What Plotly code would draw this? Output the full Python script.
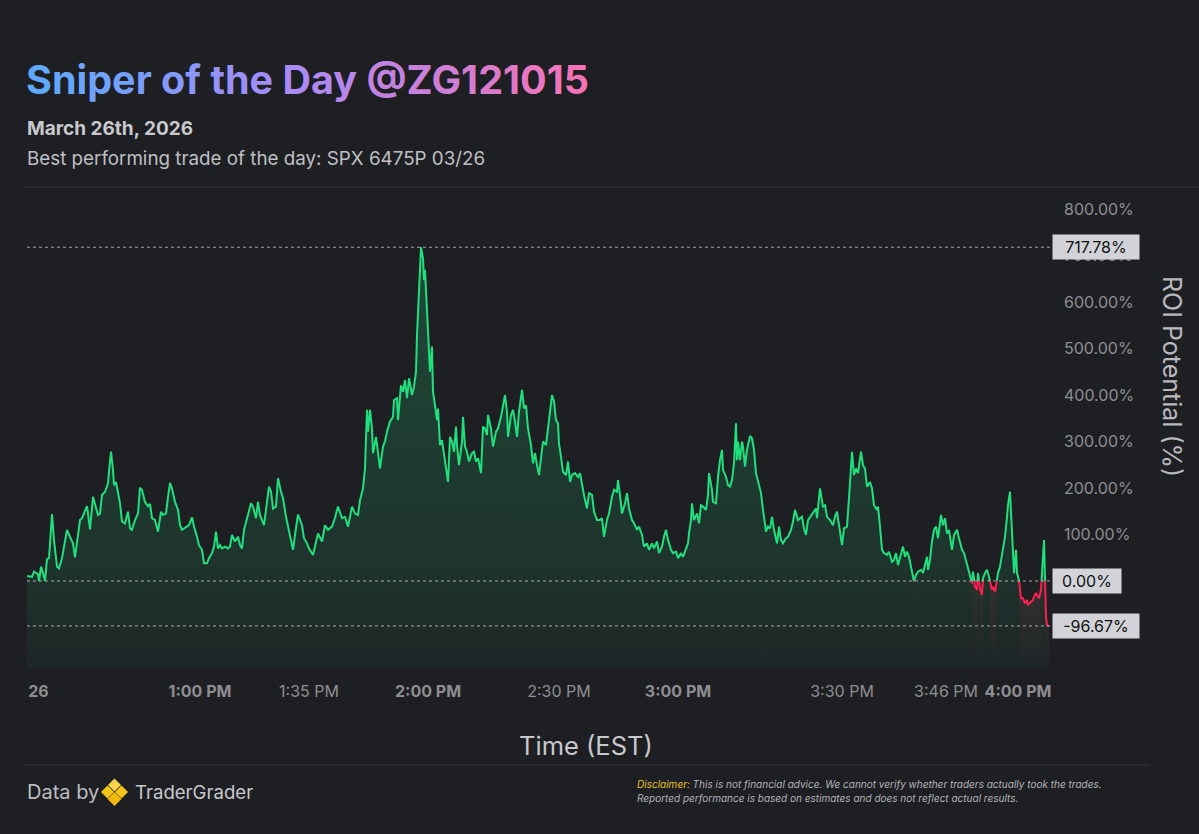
import plotly.graph_objects as go

# ---------------- data ----------------
# x = bar number along the session, y = ROI potential in %
SEG1_BAR = [0, 5, 7, 11, 12, 14, 16, 18, 20, 22, 25, 27, 30, 32, 35, 37, 40, 43, 46, 48,
            51, 53, 55, 57, 60, 61, 63, 66, 69, 71, 73, 75, 78, 81, 82, 84, 86, 87, 89, 91,
            93, 95, 98, 101, 103, 105, 108, 111, 113, 115, 118, 121, 123, 125, 128, 131, 134, 136, 139, 141,
            143, 145, 148, 151, 153, 155, 157, 160, 162, 165, 167, 170, 172, 175, 177, 180, 182, 185, 187, 189,
            191, 193, 195, 198, 201, 203, 205, 208, 211, 213, 215, 217, 220, 222, 224, 226, 229, 231, 233, 235,
            237, 240, 242, 244, 246, 249, 251, 254, 256, 259, 261, 264, 266]
SEG1_ROI = [11, 9, 20, 15, 0, 31, 17, 0, 47, 49, 144, 88, 31, 27, 49, 74, 110, 95, 81, 51,
            102, 131, 135, 145, 161, 145, 111, 181, 156, 142, 145, 185, 192, 210, 235, 278, 239, 206, 213, 192,
            167, 128, 124, 149, 113, 110, 131, 145, 201, 196, 170, 161, 166, 135, 131, 106, 149, 142, 145, 181,
            211, 199, 170, 153, 120, 110, 113, 117, 120, 137, 117, 95, 77, 67, 38, 38, 49, 60, 74, 106,
            70, 77, 70, 74, 70, 74, 99, 85, 95, 77, 70, 110, 135, 149, 167, 160, 135, 170, 142, 131,
            120, 170, 203, 192, 156, 160, 221, 192, 178, 138, 117, 92, 67]

SEG2_BAR = [268, 271, 275, 277, 280, 282, 286, 288, 291, 295, 298, 301, 305, 308, 311, 315, 318, 321, 325, 328,
            331, 333, 336, 338, 340, 341, 343, 345, 346, 349, 351, 353, 356, 358, 360, 363, 366, 367, 370, 371,
            374, 376, 378, 380, 382, 385, 387, 389, 390, 392, 393, 394, 396, 397, 398, 400, 401, 403, 405, 406,
            408, 410, 411, 413, 415, 417, 419, 421, 423, 425, 427, 429, 430, 432, 435, 436, 438, 440, 442, 445,
            447, 449, 451, 454, 456, 458, 460, 461, 464, 466, 469, 471, 474, 476, 478, 480, 481, 484, 486, 488,
            490, 492, 495, 497, 499, 501, 504, 506, 508, 510, 512, 514, 516, 519, 521, 523]
SEG2_ROI = [99, 143, 120, 92, 81, 70, 56, 74, 102, 85, 120, 110, 117, 136, 160, 135, 138, 117, 160, 145,
            142, 174, 199, 242, 368, 321, 368, 328, 275, 310, 278, 242, 289, 300, 321, 343, 353, 389, 393, 346,
            421, 407, 432, 393, 436, 400, 418, 450, 529, 615, 679, 717.78, 694, 647, 669, 579, 558, 450, 504, 407,
            378, 346, 371, 292, 303, 271, 242, 213, 310, 300, 278, 332, 292, 249, 300, 353, 289, 278, 257, 275,
            278, 257, 264, 232, 332, 328, 314, 357, 328, 289, 321, 328, 353, 378, 400, 364, 310, 357, 368, 343,
            310, 364, 411, 371, 378, 328, 292, 253, 275, 249, 228, 264, 300, 292, 328, 353]

SEG3_BAR = [525, 527, 529, 531, 532, 534, 536, 539, 541, 543, 545, 548, 551, 553, 555, 557, 560, 562, 565, 567,
            570, 573, 575, 577, 580, 582, 585, 587, 590, 591, 593, 595, 598, 600, 602, 605, 607, 610, 612, 615,
            617, 620, 622, 625, 627, 630, 632, 635, 637, 639, 641, 644, 646, 649, 651, 654, 656, 659, 661, 662,
            664, 665, 667, 670, 672, 674, 676, 679, 681, 682, 685, 686, 689, 691, 693, 695, 696, 699, 701, 703,
            705, 707, 709, 710, 711, 713, 715, 716, 718, 720, 723, 725, 727, 729, 731, 734, 736, 739, 741, 743,
            745, 747, 750, 752, 754, 756, 759, 761, 764, 766, 768, 771, 773, 775, 777, 779, 781, 785]
SEG3_ROI = [400, 386, 346, 339, 296, 267, 235, 228, 257, 213, 228, 232, 224, 232, 203, 185, 156, 189, 185, 149,
            131, 131, 135, 95, 131, 145, 181, 196, 192, 217, 185, 145, 167, 189, 156, 131, 124, 110, 117, 99,
            74, 81, 67, 81, 70, 85, 60, 74, 95, 110, 88, 67, 60, 63, 49, 60, 52, 67, 81, 102,
            131, 167, 131, 145, 124, 163, 160, 153, 185, 232, 196, 170, 167, 224, 260, 282, 239, 224, 206, 203,
            217, 253, 339, 260, 300, 260, 300, 289, 246, 282, 312, 307, 282, 232, 217, 189, 153, 106, 117, 113,
            138, 110, 81, 117, 88, 81, 92, 95, 110, 128, 153, 131, 135, 138, 113, 99, 131, 145]

SEG4_BAR = [789, 790, 793, 796, 798, 800, 803, 806, 808, 810, 812, 815, 817, 820, 822, 825, 827, 829, 831, 834,
            836, 838, 840, 843, 845, 847, 850, 851, 853, 855, 857, 860, 862, 865, 867, 869, 871, 874, 876, 878,
            880, 882, 885, 887, 889, 891, 894, 896, 898, 900, 901, 903, 905, 907, 909, 911, 914, 916, 918, 920,
            922, 925, 927, 930, 932, 935, 937, 939, 941, 943, 945, 946, 948, 950, 951, 953, 955, 956, 958, 960,
            962, 965, 966, 968, 970, 971, 973, 975, 976, 978, 980, 981, 983, 984, 986, 987, 989, 990, 992, 994,
            996, 998, 1000, 1001, 1004, 1006, 1007, 1009, 1010, 1012, 1014, 1015, 1016, 1017, 1019, 1020, 1022]
SEG4_ROI = [156, 135, 199, 160, 163, 138, 131, 120, 138, 149, 120, 77, 113, 117, 178, 278, 228, 242, 232, 278,
            249, 242, 203, 213, 199, 163, 153, 160, 117, 67, 60, 56, 63, 41, 45, 60, 34, 56, 74, 52,
            63, 52, 17, -1, 13, 20, 24, 17, 38, 52, 24, 45, 85, 110, 117, 92, 142, 120, 135, 102,
            110, 67, 99, 110, 92, 67, 60, 45, 31, 13, -5, 20, -12, -19, 17, -16, -30, 6, 17, 24,
            9, -19, -12, -23, 2, 17, 31, 60, 67, 95, 138, 163, 192, 153, 67, 17, 67, 17, 2, -37,
            -37, -48, -41, -52, -44, -41, -34, -26, -30, -37, -19, 17, 28, 88, -77, -95, -96.67]

BAR = SEG1_BAR + SEG2_BAR + SEG3_BAR + SEG4_BAR
ROI = SEG1_ROI + SEG2_ROI + SEG3_ROI + SEG4_ROI
assert len(SEG1_BAR) == len(SEG1_ROI), (len(SEG1_BAR), len(SEG1_ROI))
assert len(SEG2_BAR) == len(SEG2_ROI), (len(SEG2_BAR), len(SEG2_ROI))
assert len(SEG3_BAR) == len(SEG3_ROI), (len(SEG3_BAR), len(SEG3_ROI))
assert len(SEG4_BAR) == len(SEG4_ROI), (len(SEG4_BAR), len(SEG4_ROI))

TICK_BARS = [11.5, 173, 282, 401, 532, 651, 815, 919, 991]
TICK_LABELS = ["26", "1:00 PM", "1:35 PM", "2:00 PM", "2:30 PM", "3:00 PM", "3:30 PM", "3:46 PM", "4:00 PM"]
TICK_BOLD = [True, True, False, True, False, True, False, False, True]
Y_TICKS = [0, 100, 200, 300, 400, 500, 600, 700, 800]
MAX_ROI = 717.78
ZERO_ROI = 0.0
MIN_ROI = -96.67

TITLE = "Sniper of the Day @ZG121015"
DATE = "March 26th, 2026"
SUBTITLE = "Best performing trade of the day: SPX 6475P 03/26"
X_TITLE = "Time (EST)"
Y_TITLE = "ROI Potential (%)"
DISCLAIMER_1 = "This is not financial advice. We cannot verify whether traders actually took the trades."
DISCLAIMER_2 = "Reported performance is based on estimates and does not reflect actual results."

# ---------------- styling ----------------
BG = "#1e1f23"
GREEN = "#20e07e"
RED = "#ff1f4f"
FONT = "Inter, Liberation Sans, Arial, sans-serif"
W, H = 1199, 834
PLOT_L, PLOT_R, PLOT_T, PLOT_B = 27, 1050, 193, 668
Y_RANGE = [-187.1, 834.4]
X_RANGE = [0, 1023]


def pxx(x):
    return (x - PLOT_L) / (PLOT_R - PLOT_L)


def pyy(y):
    return (PLOT_B - y) / (PLOT_B - PLOT_T)


def split_by_sign(xs, ys):
    """Split the polyline into green (>=0) and red (<0) pieces, cut at the zero crossing."""
    pieces = []
    cur_pos = ys[0] >= 0
    cx, cy = [xs[0]], [ys[0]]
    for i in range(1, len(xs)):
        x0, y0, x1, y1 = xs[i - 1], ys[i - 1], xs[i], ys[i]
        pos = y1 >= 0
        if pos == cur_pos:
            cx.append(x1); cy.append(y1)
        else:
            xc = x0 + (x1 - x0) * (0 - y0) / (y1 - y0)
            cx.append(xc); cy.append(0)
            pieces.append((cur_pos, cx, cy))
            cur_pos = pos
            cx, cy = [xc, x1], [0, y1]
    pieces.append((cur_pos, cx, cy))
    return pieces


def join(pieces, positive):
    px, py = [], []
    for p, a, b in pieces:
        if p == positive:
            px.extend(a + [None]); py.extend(b + [None])
    return px, py


def hex_to_rgb(h):
    h = h.lstrip("#")
    return tuple(int(h[i:i + 2], 16) for i in (0, 2, 4))


def gradient_text(text, stops):
    n = len(text)
    parts = []
    for i, ch in enumerate(text):
        t = i / max(n - 1, 1)
        for j in range(len(stops) - 1):
            if stops[j][0] <= t <= stops[j + 1][0]:
                a, b = stops[j], stops[j + 1]
                break
        f = (t - a[0]) / (b[0] - a[0])
        ca, cb = hex_to_rgb(a[1]), hex_to_rgb(b[1])
        c = tuple(round(ca[k] + (cb[k] - ca[k]) * f) for k in range(3))
        if ch == " ":
            parts.append(" ")
        else:
            parts.append('<span style="color:rgb(%d,%d,%d)">%s</span>' % (c[0], c[1], c[2], ch))
    return "".join(parts)


fig = go.Figure()

# baseline for the area fill (bottom of the y range)
fig.add_trace(go.Scatter(x=BAR, y=[Y_RANGE[0]] * len(BAR), mode="lines",
                         line=dict(width=0, color="rgba(0,0,0,0)"), hoverinfo="skip", showlegend=False))
zero_pos = (0 - Y_RANGE[0]) / (MAX_ROI - Y_RANGE[0])
fig.add_trace(go.Scatter(
    x=BAR, y=ROI, mode="lines", fill="tonexty",
    line=dict(width=0, color="rgba(0,0,0,0)"),
    fillgradient=dict(type="vertical",
                      colorscale=[[0, "rgba(32,224,126,0.03)"],
                                  [zero_pos, "rgba(32,224,126,0.10)"],
                                  [1, "rgba(32,224,126,0.22)"]],
                      start=Y_RANGE[0], stop=MAX_ROI),
    hoverinfo="skip", showlegend=False))

pieces = split_by_sign(BAR, ROI)

# faint red tint under the negative stretches
for p, a, b in pieces:
    if not p:
        fig.add_trace(go.Scatter(x=a, y=[Y_RANGE[0]] * len(a), mode="lines",
                                 line=dict(width=0, color="rgba(0,0,0,0)"), hoverinfo="skip", showlegend=False))
        fig.add_trace(go.Scatter(
            x=a, y=b, mode="lines", fill="tonexty", line=dict(width=0, color="rgba(0,0,0,0)"),
            fillgradient=dict(type="vertical",
                              colorscale=[[0, "rgba(255,31,79,0.0)"], [1, "rgba(255,31,79,0.10)"]],
                              start=Y_RANGE[0], stop=0),
            hoverinfo="skip", showlegend=False))

gx, gy = join(pieces, True)
rx, ry = join(pieces, False)
fig.add_trace(go.Scatter(x=gx, y=gy, mode="lines", line=dict(color=GREEN, width=2),
                         hoverinfo="skip", showlegend=False, connectgaps=False))
fig.add_trace(go.Scatter(x=rx, y=ry, mode="lines", line=dict(color=RED, width=2),
                         hoverinfo="skip", showlegend=False, connectgaps=False))

shapes = []
for v in (MAX_ROI, ZERO_ROI, MIN_ROI):
    shapes.append(dict(type="line", xref="paper", x0=0, x1=1, yref="y", y0=v, y1=v,
                       line=dict(color="#a9a9ae", width=1, dash="dot"), layer="above"))
# separators
shapes.append(dict(type="line", xref="paper", yref="paper", x0=pxx(23), x1=pxx(1199), y0=pyy(187), y1=pyy(187),
                   line=dict(color="#34353a", width=1)))
shapes.append(dict(type="line", xref="paper", yref="paper", x0=pxx(24), x1=pxx(1150), y0=pyy(765), y1=pyy(765),
                   line=dict(color="#34353a", width=1)))


# logo: four diamonds
def diamond(cx, cy, r, color):
    pts = [(cx, cy - r), (cx + r, cy), (cx, cy + r), (cx - r, cy)]
    path = "M " + " L ".join("%f,%f" % (pxx(a), pyy(b)) for a, b in pts) + " Z"
    return dict(type="path", xref="paper", yref="paper", path=path,
                fillcolor=color, line=dict(width=0))


shapes += [diamond(114.5, 785, 6.5, "#f8d44c"), diamond(107.5, 792, 6.5, "#f5c518"),
           diamond(121.5, 792, 6.5, "#f5c518"), diamond(114.5, 799, 7, "#f0b90b")]

ann = []
ann.append(dict(text="<b>" + gradient_text(TITLE, [(0, "#5fa8fb"), (0.5, "#a48cf9"), (1, "#f472b6")]) + "</b>",
                x=pxx(24), y=pyy(80), xref="paper", yref="paper", xanchor="left", yanchor="middle",
                showarrow=False, font=dict(size=39.5, family=FONT)))
ann.append(dict(text="<b>%s</b>" % DATE, x=pxx(25), y=pyy(129), xref="paper", yref="paper",
                xanchor="left", yanchor="middle", showarrow=False,
                font=dict(size=19, family=FONT, color="#c9c9cd")))
ann.append(dict(text=SUBTITLE, x=pxx(25), y=pyy(158), xref="paper", yref="paper",
                xanchor="left", yanchor="middle", showarrow=False,
                font=dict(size=18.8, family=FONT, color="#bfbfc3")))
ann.append(dict(text=X_TITLE, x=pxx(586), y=pyy(745), xref="paper", yref="paper",
                xanchor="center", yanchor="middle", showarrow=False,
                font=dict(size=25.5, family=FONT, color="#c8c8cc")))
ann.append(dict(text=Y_TITLE, x=pxx(1172), y=pyy(376), xref="paper", yref="paper", textangle=90,
                xanchor="center", yanchor="middle", showarrow=False,
                font=dict(size=25, family=FONT, color="#b9b9bd")))
ann.append(dict(text="Data by", x=pxx(25), y=pyy(792), xref="paper", yref="paper",
                xanchor="left", yanchor="middle", showarrow=False,
                font=dict(size=20, family=FONT, color="#bdbdc1")))
ann.append(dict(text="TraderGrader", x=pxx(133), y=pyy(792), xref="paper", yref="paper",
                xanchor="left", yanchor="middle", showarrow=False,
                font=dict(size=18.6, family=FONT, color="#c9c9cd")))
ann.append(dict(text='<i><span style="color:#e8c22c">Disclaimer:</span> %s</i>' % DISCLAIMER_1,
                x=pxx(635), y=pyy(784), xref="paper", yref="paper",
                xanchor="left", yanchor="middle", showarrow=False,
                font=dict(size=10, family=FONT, color="#b3b3b7")))
ann.append(dict(text="<i>%s</i>" % DISCLAIMER_2,
                x=pxx(635), y=pyy(798), xref="paper", yref="paper",
                xanchor="left", yanchor="middle", showarrow=False,
                font=dict(size=10, family=FONT, color="#b3b3b7")))
for v, w in ((MAX_ROI, 80), (ZERO_ROI, 62), (MIN_ROI, 80)):
    ann.append(dict(text="%.2f%%" % v, x=1, xref="paper", y=v, yref="y", xanchor="left", yanchor="middle",
                    xshift=2, showarrow=False, bgcolor="#d2d3d8", borderpad=3, width=w, height=18,
                    align="center", font=dict(size=16, family=FONT, color="#111111")))

fig.update_layout(
    width=W, height=H, autosize=False,
    paper_bgcolor=BG, plot_bgcolor=BG,
    margin=dict(l=PLOT_L, r=W - PLOT_R, t=PLOT_T, b=H - PLOT_B, pad=0),
    showlegend=False,
    font=dict(family=FONT),
    shapes=shapes, annotations=ann,
    hovermode=False,
    xaxis=dict(range=X_RANGE, showgrid=False, zeroline=False, showline=False,
               tickmode="array", tickvals=TICK_BARS,
               ticktext=[("<b>%s</b>" % t) if b else t for t, b in zip(TICK_LABELS, TICK_BOLD)],
               tickfont=dict(size=16, color="#8e8e92", family=FONT), ticks="", ticklabelstandoff=12,
               fixedrange=True),
    yaxis=dict(range=Y_RANGE, side="right", showgrid=False, zeroline=False, showline=False,
               tickmode="array", tickvals=Y_TICKS, ticktext=["%.2f%%" % v for v in Y_TICKS],
               tickfont=dict(size=16, color="#8e8e92", family=FONT), ticks="", ticklabelstandoff=13,
               fixedrange=True),
)

fig.write_html("out.html", config={"displayModeBar": False},
               post_script="document.body.style.margin='0';document.body.style.background='%s';" % BG)
